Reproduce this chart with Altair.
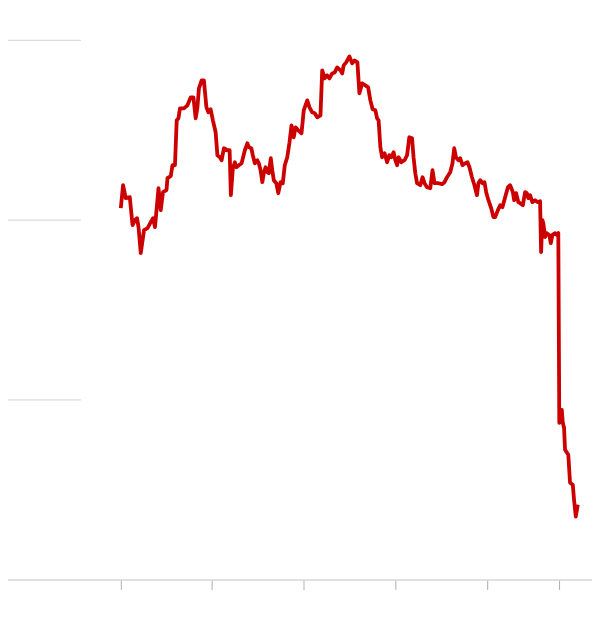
import altair as alt
import pandas as pd

# (day since first tick, price)
series = [
    (0, 186), (9, 197.5), (20, 191), (36, 191.5), (47, 177.5), (57, 180), (65, 181),
    (71, 176.5), (80, 163.5), (93, 175), (107, 176), (120, 179), (129, 181), (137, 176.5),
    (151, 196), (160, 185), (169, 194), (183, 195), (187, 201), (200, 202), (207, 207.5),
    (217, 207.5), (224, 230), (231, 231), (237, 236), (253, 236), (267, 237.5), (280, 241.5),
    (291, 241.5), (300, 231), (307, 236.5), (313, 246), (324, 250), (333, 250), (343, 236.5),
    (351, 234), (360, 235.5), (369, 230), (380, 224), (387, 212.5), (397, 211.5), (404, 210),
    (413, 216), (427, 215), (436, 215), (441, 192.5), (449, 206), (457, 209), (463, 206.5),
    (473, 207.5), (484, 208.5), (497, 215), (507, 218.5), (513, 216.5), (523, 216),
    (529, 212.5), (537, 208.5), (547, 210), (553, 208.5), (560, 205), (567, 199), (573, 203.5),
    (580, 206.5), (587, 204), (593, 203.5), (601, 211), (607, 205), (613, 200), (623, 198.5),
    (631, 193.5), (640, 199), (649, 198.5), (657, 207.5), (667, 211.5), (676, 219),
    (684, 227.5), (693, 221.5), (700, 226.5), (711, 225), (724, 223.5), (733, 235), (747, 240),
    (756, 236.5), (767, 234), (777, 233.5), (787, 231.5), (800, 232.5), (807, 255), (817, 251),
    (827, 252.5), (836, 251), (847, 253.5), (857, 254), (867, 256.5), (880, 255), (887, 253.5),
    (893, 257.5), (903, 259), (916, 262), (927, 258.5), (937, 260), (948, 259), (956, 243.5),
    (967, 248.5), (980, 247.5), (991, 246.5), (1000, 240), (1009, 235.5), (1020, 235),
    (1027, 231), (1033, 230), (1040, 216.5), (1047, 211.5), (1057, 213.5), (1067, 209),
    (1076, 212.5), (1084, 211.5), (1093, 214), (1100, 210), (1107, 207.5), (1113, 211.5),
    (1124, 209), (1137, 210), (1147, 212.5), (1156, 221.5), (1167, 221), (1173, 211.5),
    (1180, 203.5), (1187, 198.5), (1200, 197.5), (1209, 201.5), (1217, 198.5), (1227, 196.5),
    (1240, 196), (1249, 205), (1257, 198.5), (1273, 198.5), (1287, 198), (1297, 199),
    (1307, 201.5), (1320, 204), (1329, 208.5), (1336, 216), (1343, 211.5), (1353, 210),
    (1360, 211), (1369, 207.5), (1380, 208.5), (1389, 209), (1397, 206.5), (1407, 201.5),
    (1417, 197.5), (1427, 192.5), (1433, 198.5), (1440, 200), (1449, 198.5), (1457, 199),
    (1464, 194), (1473, 190), (1484, 186), (1493, 181.5), (1500, 181.5), (1511, 185),
    (1520, 187.5), (1529, 186.5), (1540, 191.5), (1551, 196.5), (1560, 197.5), (1571, 194),
    (1576, 190), (1584, 193.5), (1593, 189), (1600, 188.5), (1611, 187.5), (1620, 194),
    (1627, 193.5), (1633, 191), (1640, 192.5), (1649, 189), (1660, 190), (1671, 189),
    (1680, 189.5), (1684, 164), (1689, 180), (1693, 178.5), (1700, 171.5), (1707, 173.5),
    (1717, 172.5), (1723, 168.5), (1729, 172.5), (1740, 173.5), (1747, 172.5), (1753, 173.5),
    (1757, 78.5), (1767, 85), (1771, 78.5), (1776, 76), (1780, 65), (1793, 62.5),
    (1800, 48.5), (1811, 47.5), (1816, 40), (1823, 31.5), (1831, 37.5),
]
days = [d for d, _ in series]
prices = [p for _, p in series]

grid_values = [90, 180, 270]
tick_days = [0, 364, 732, 1100, 1468, 1756]
x_domain = [-480, 1920]
y_domain = [0, 290]

df = pd.DataFrame({"day": days, "price": prices})
grid_df = pd.DataFrame({"price": grid_values})

xscale = alt.Scale(domain=x_domain, nice=False, zero=False)
yscale = alt.Scale(domain=y_domain, nice=False, zero=False)

grid = alt.Chart(grid_df).mark_rule(color="#dcdcdc", strokeWidth=1.3).encode(
    y=alt.Y("price:Q", scale=yscale, axis=None),
    x=alt.value(0),
    x2=alt.value(80),
)

line = alt.Chart(df).mark_line(color="#cc0000", strokeWidth=3.8, strokeJoin="round").encode(
    x=alt.X(
        "day:Q",
        scale=xscale,
        axis=alt.Axis(
            values=tick_days,
            labels=False,
            title=None,
            grid=False,
            domainColor="#dcdcdc",
            domainWidth=1.3,
            tickColor="#b0b0b0",
            tickWidth=1,
            tickSize=10,
        ),
    ),
    y=alt.Y("price:Q", scale=yscale, axis=None),
)

chart = (
    alt.layer(grid, line)
    .properties(width=600, height=580, padding={"left": -8, "top": -8, "right": -8, "bottom": 0})
    .configure_view(stroke=None)
    .configure(background="white")
)

chart.save("out.html", embed_options={"renderer": "svg", "actions": False})
